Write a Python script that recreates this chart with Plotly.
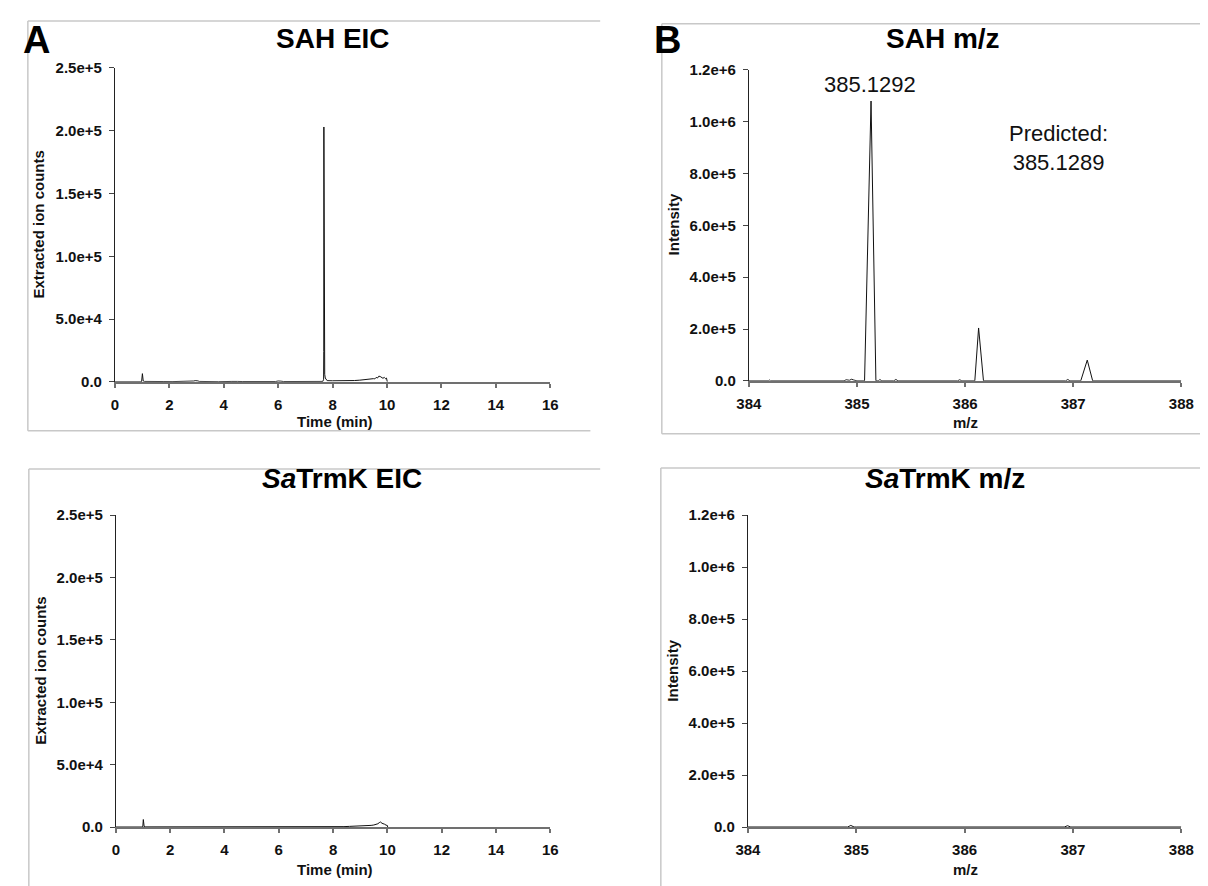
import plotly.graph_objects as go

W, H = 1208, 886
OFF = 8  # default page body margin in the browser
FW, FH = W - OFF, H - OFF

# ---------------- data ----------------
sah_eic_time = [0.0, 0.98, 1.01, 1.02, 1.04, 1.08, 1.2, 1.5, 1.8, 2.1, 2.4, 2.7, 2.9, 2.95, 3.0, 3.05, 3.1, 3.3,
                3.8, 4.3, 4.4, 4.5, 4.7, 5.0, 5.4, 5.9, 6.0, 6.05, 6.1, 6.2, 6.5, 7.0, 7.5, 7.64, 7.67, 7.675,
                7.68, 7.685, 7.69, 7.70, 7.71, 7.73, 7.76, 7.8, 8.0, 8.3, 8.5, 8.6, 8.8, 9.0, 9.1, 9.2, 9.3,
                9.4, 9.5, 9.55, 9.6, 9.65, 9.7, 9.75, 9.8, 9.85, 9.9, 9.95, 9.98, 10.0, 10.01]
sah_eic_counts = [0, 0, 6500, 1500, 600, 300, 200, 100, 200, 150, 100, 200, 600, 900, 1000, 700, 300, 150,
                  100, 300, 500, 300, 200, 150, 100, 200, 600, 800, 500, 200, 100, 100, 150, 300, 2000, 24000,
                  203000, 24000, 12000, 90000, 6000, 3000, 1500, 900, 800, 700, 900, 800, 1000, 1300, 1600, 1400, 1800,
                  2000, 2500, 2300, 3500, 3000, 4500, 4200, 3200, 2800, 3500, 2400, 3000, 1800, 0]

sah_mz = [384.0, 384.18, 384.19, 384.2, 384.88, 384.9, 384.93, 384.95, 384.97, 385.0, 385.07, 385.125,
          385.13, 385.175, 385.2, 385.21, 385.23, 385.34, 385.36, 385.38, 385.93, 385.95, 385.97, 386.09,
          386.125, 386.17, 386.93, 386.95, 386.97, 387.07, 387.13, 387.18, 388.0]
sah_intensity = [0, 0, 3000, 0, 0, 4000, 2000, 6000, 3000, 0, 0, 940000,
                 1080000, 0, 0, 5000, 0, 0, 5000, 0, 0, 4000, 0, 0,
                 204000, 0, 0, 5000, 0, 0, 80000, 0, 0]

trmk_eic_time = [0.0, 0.99, 1.01, 1.02, 1.04, 1.1, 3.0, 6.0, 8.2, 8.4, 8.6, 8.8, 9.0, 9.2, 9.4, 9.5, 9.6,
                 9.65, 9.7, 9.75, 9.8, 9.85, 9.9, 9.95, 10.0, 10.01]
trmk_eic_counts = [0, 0, 6000, 1500, 500, 100, 0, 0, 200, 300, 500, 600, 800, 1000, 1300, 1600, 2000,
                   2600, 3500, 4000, 3000, 2800, 2200, 1500, 1200, 0]

trmk_mz = [384.0, 384.92, 384.95, 384.98, 385.0, 386.92, 386.95, 386.98, 387.0, 388.0]
trmk_intensity = [0, 0, 6000, 0, 0, 0, 5000, 0, 0, 0]

eic_tickvals = [0, 50000, 100000, 150000, 200000, 250000]
eic_ticktext = ["0.0", "5.0e+4", "1.0e+5", "1.5e+5", "2.0e+5", "2.5e+5"]
mz_tickvals = [0, 200000, 400000, 600000, 800000, 1000000, 1200000]
mz_ticktext = ["0.0", "2.0e+5", "4.0e+5", "6.0e+5", "8.0e+5", "1.0e+6", "1.2e+6"]
time_ticks = [0, 2, 4, 6, 8, 10, 12, 14, 16]
mz_xticks = [384, 385, 386, 387, 388]

titles = ["<b>SAH EIC</b>", "<b>SAH m/z</b>", "<b><i>Sa</i>TrmK EIC</b>", "<b><i>Sa</i>TrmK m/z</b>"]
panel_letters = ["A", "B"]
peak_label = "385.1292"
predicted_label = "Predicted:<br>385.1289"

# ---------------- layout helpers ----------------
FONT = "Liberation Sans, Arial, sans-serif"


def px(x):
    return (x - OFF) / FW


def py(y):
    return 1 - (y - OFF) / FH


fig = go.Figure()

# plot areas in page-pixel coordinates (left, right, top, bottom)
areas = {
    1: (104, 549, 60, 380),
    2: (752, 1194, 62, 379),
    3: (105, 549, 516, 834),
    4: (751, 1194, 516, 834),
}

series = [
    (sah_eic_time, sah_eic_counts, 1),
    (sah_mz, sah_intensity, 2),
    (trmk_eic_time, trmk_eic_counts, 3),
    (trmk_mz, trmk_intensity, 4),
]
for xs, ys, k in series:
    fig.add_trace(go.Scatter(x=xs, y=ys, mode="lines",
                             line=dict(color="#111111", width=1),
                             xaxis="x" if k == 1 else f"x{k}",
                             yaxis="y" if k == 1 else f"y{k}",
                             showlegend=False, hoverinfo="skip"))

tickfont = dict(family=FONT, size=15, color="#111111", weight="bold")
layout = dict(width=FW, height=FH, margin=dict(l=0, r=0, t=0, b=0),
              paper_bgcolor="white", plot_bgcolor="white", showlegend=False)

for k, (l, r, t, b) in areas.items():
    xname = "xaxis" if k == 1 else f"xaxis{k}"
    yname = "yaxis" if k == 1 else f"yaxis{k}"
    yref = "y" if k == 1 else f"y{k}"
    xref = "x" if k == 1 else f"x{k}"
    is_eic = k in (1, 3)
    layout[xname] = dict(
        domain=[px(l), px(r)], anchor=yref,
        range=[0, 16] if is_eic else [384, 388],
        tickvals=time_ticks if is_eic else mz_xticks,
        showline=True, linecolor="#707070", linewidth=1.5,
        ticks="outside", ticklen=4, tickcolor="#707070", tickwidth=1.5,
        showgrid=False, zeroline=False, tickfont=tickfont, ticklabelstandoff=4,
    )
    layout[yname] = dict(
        domain=[py(b), py(t)], anchor=xref,
        range=[0, 250000] if is_eic else [0, 1200000],
        tickvals=eic_tickvals if is_eic else mz_tickvals,
        ticktext=eic_ticktext if is_eic else mz_ticktext,
        showline=True, linecolor="#222222", linewidth=1,
        ticks="outside", ticklen=5, tickcolor="#444444",
        showgrid=False, zeroline=False, tickfont=tickfont, ticklabelstandoff=4,
    )

fig.update_layout(**layout)

ann = []
# titles
title_pos = [(327, 30), (950, 30), (336, 479), (952, 479)]
for text, (x, y) in zip(titles, title_pos):
    ann.append(dict(text=text, x=px(x), y=py(y), xref="paper", yref="paper",
                    xanchor="center", yanchor="middle", showarrow=False,
                    font=dict(family=FONT, size=28, color="#000000")))
# panel letters
for text, (x, y) in zip(panel_letters, [(24, 31), (669, 31)]):
    ann.append(dict(text=f"<b>{text}</b>", x=px(x), y=py(y), xref="paper", yref="paper",
                    xanchor="center", yanchor="middle", showarrow=False,
                    font=dict(family=FONT, size=38, color="#000000")))
# axis titles
axis_titles = [
    ("Extracted ion counts", 26, 220, -90),
    ("Intensity", 675, 220, -90),
    ("Extracted ion counts", 28, 675, -90),
    ("Intensity", 674, 675, -90),
    ("Time (min)", 329, 420, 0),
    ("m/z", 973, 422, 0),
    ("Time (min)", 329, 877, 0),
    ("m/z", 973, 877, 0),
]
for text, x, y, ang in axis_titles:
    ann.append(dict(text=f"<b>{text}</b>", x=px(x), y=py(y), xref="paper", yref="paper",
                    xanchor="center", yanchor="middle", showarrow=False, textangle=ang,
                    font=dict(family=FONT, size=15, color="#111111")))
# spectrum annotations
ann.append(dict(text=peak_label, x=px(876), y=py(77), xref="paper", yref="paper",
                xanchor="center", yanchor="middle", showarrow=False,
                font=dict(family=FONT, size=22, color="#111111")))
ann.append(dict(text=predicted_label, x=px(1068), y=py(142), xref="paper", yref="paper",
                xanchor="center", yanchor="middle", showarrow=False,
                font=dict(family=FONT, size=22, color="#111111")))
fig.update_layout(annotations=ann)

# gray panel frames (left, top, bottom edges)
frames = [
    (15, 600, 12, 430, 590),
    (663, 1220, 15, 433, 1220),
    (16, 600, 469, 900, 600),
    (662, 1220, 468, 900, 1220),
]
shapes = []
for l, rt, t, b, rb in frames:
    line = dict(color="#c8c8c8", width=1.5)
    shapes.append(dict(type="line", xref="paper", yref="paper", x0=px(l), x1=px(rt), y0=py(t), y1=py(t), line=line))
    shapes.append(dict(type="line", xref="paper", yref="paper", x0=px(l), x1=px(l), y0=py(t), y1=py(min(b, 900)), line=line))
    if b < H:
        shapes.append(dict(type="line", xref="paper", yref="paper", x0=px(l), x1=px(rb), y0=py(b), y1=py(b), line=line))
fig.update_layout(shapes=shapes)

fig.write_html("out.html")
